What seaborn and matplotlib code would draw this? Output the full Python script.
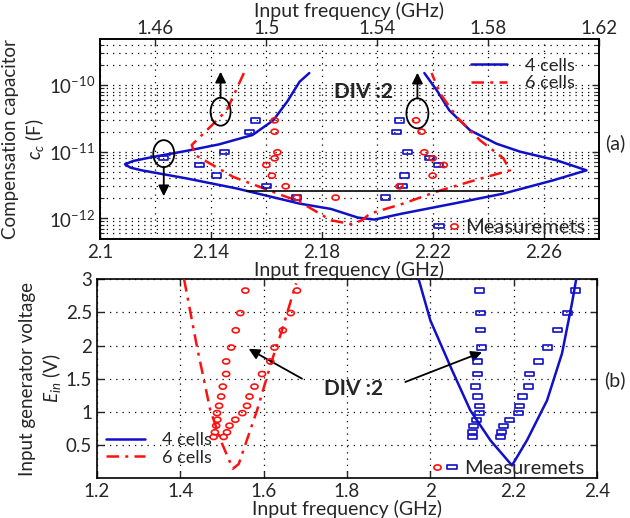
import numpy as np
import matplotlib
matplotlib.use("Agg")
import matplotlib.pyplot as plt
import seaborn as sns
from matplotlib.lines import Line2D
from matplotlib.patches import Ellipse
from matplotlib.legend_handler import HandlerTuple
from matplotlib.path import Path
from matplotlib.markers import MarkerStyle

# ---------------- data ----------------
# (a) compensation capacitor vs input frequency, exponents of c_c
a_4cells_f = [2.1755, 2.172, 2.1675, 2.1625, 2.155, 2.143, 2.131, 2.119, 2.112, 2.109,
              2.111, 2.115, 2.131, 2.149, 2.172, 2.1833, 2.193, 2.199, 2.209, 2.2275,
              2.2455, 2.2635, 2.2755, 2.2647, 2.2515, 2.243, 2.2335, 2.226, 2.2215, 2.217]
a_4cells_exp = [-9.82, -9.95, -10.25, -10.53, -10.75, -10.89, -10.99, -11.08, -11.14, -11.19,
                -11.24, -11.28, -11.40, -11.55, -11.78, -11.86, -11.99, -12.02, -11.93, -11.78,
                -11.63, -11.43, -11.28, -11.13, -11.00, -10.88, -10.68, -10.38, -10.08, -9.82]

a_6cells_f = [2.1519, 2.1457, 2.1397, 2.1331, 2.1343, 2.1385, 2.1481, 2.1577, 2.1673, 2.1715,
              2.1833, 2.1908, 2.1945, 2.1974, 2.2094, 2.2214, 2.2335, 2.2479, 2.2455, 2.2371,
              2.2287, 2.2226, 2.2196]
a_6cells_exp = [-9.82, -10.38, -10.63, -10.90, -11.05, -11.15, -11.38, -11.53, -11.68, -11.74,
                -12.03, -12.09, -12.03, -11.93, -11.78, -11.60, -11.45, -11.28, -11.10, -10.83,
                -10.48, -10.12, -9.82]

a_meas_exp = [-10.53, -10.70, -11.01, -11.10, -11.20, -11.36, -11.52, -11.69]
a_meas4_low = [2.156, 2.154, 2.145, 2.123, 2.136, 2.142, 2.160, 2.171]
a_meas4_high = [2.208, 2.207, 2.211, 2.219, 2.222, 2.210, 2.209, 2.203]
a_meas6_low = [2.163, 2.163, 2.164, 2.163, 2.160, 2.162, 2.167, 2.171]
a_meas6_high = [2.214, 2.216, 2.217, 2.220, 2.224, 2.220, 2.208, 2.185]

a_xticks = [2.1, 2.14, 2.18, 2.22, 2.26]
a_xticklabels = ["2.1", "2.14", "2.18", "2.22", "2.26"]
a_top_xticks = [1.46, 1.5, 1.54, 1.58, 1.62]
a_top_xticklabels = ["1.46", "1.5", "1.54", "1.58", "1.62"]

# (b) input generator voltage vs input frequency
b_4cells_f = [1.972, 2.000, 2.052, 2.096, 2.144, 2.196, 2.232, 2.280, 2.316, 2.340, 2.350]
b_4cells_v = [3.00, 2.38, 1.63, 1.02, 0.57, 0.19, 0.57, 1.17, 1.88, 2.64, 3.00]
b_6cells_f = [1.409, 1.440, 1.472, 1.500, 1.526, 1.540, 1.584, 1.620, 1.644, 1.673, 1.678]
b_6cells_v = [3.00, 1.98, 1.02, 0.52, 0.14, 0.21, 1.02, 1.78, 2.23, 2.84, 2.94]

b_meas_v = [2.83, 2.49, 2.23, 1.97, 1.76, 1.57, 1.38, 1.23, 1.09, 0.98, 0.88, 0.79, 0.69, 0.62]
b_meas4_low = [2.117, 2.120, 2.120, 2.122, 2.114, 2.114, 2.108, 2.113, 2.118, 2.117, 2.110, 2.104, 2.101, 2.102]
b_meas4_high = [2.348, 2.330, 2.306, 2.282, 2.260, 2.238, 2.235, 2.221, 2.214, 2.211, 2.190, 2.176, 2.171, 2.168]
b_meas6_low = [1.556, 1.544, 1.533, 1.522, 1.510, 1.510, 1.502, 1.498, 1.493, 1.488, 1.489, 1.486, 1.483, 1.480]
b_meas6_high = [1.680, 1.665, 1.646, 1.626, 1.616, 1.596, 1.578, 1.566, 1.560, 1.549, 1.532, 1.518, 1.512, 1.504]

b_xticks = [1.2, 1.4, 1.6, 1.8, 2.0, 2.2, 2.4]
b_xticklabels = ["1.2", "1.4", "1.6", "1.8", "2", "2.2", "2.4"]
b_yticks = [0.5, 1, 1.5, 2, 2.5, 3]
b_yticklabels = ["0.5", "1", "1.5", "2", "2.5", "3"]

# ---------------- style ----------------
sns.set_style("ticks")
plt.rcParams["font.family"] = ["Lato", "DejaVu Sans"]
plt.rcParams["mathtext.fontset"] = "custom"
plt.rcParams["mathtext.rm"] = "Lato"
plt.rcParams["mathtext.it"] = "Lato:italic"
plt.rcParams["mathtext.bf"] = "Lato:bold"
plt.rcParams["axes.linewidth"] = 1.2
plt.rcParams["axes.edgecolor"] = "black"
plt.rcParams["xtick.direction"] = "in"
plt.rcParams["ytick.direction"] = "in"

BLUE = "#1010c8"
RED = "#ff1010"
FS = 13.5
LFS = 14
DASHDOT = (0, (5, 2.5, 1.2, 2.5))
GRID = dict(color="black", linestyle=(0, (1, 4)), linewidth=0.9)

# wide box / flat ring markers
rect_marker = MarkerStyle(Path([(-1, -0.48), (1, -0.48), (1, 0.48), (-1, 0.48), (-1, -0.48)],
                               [Path.MOVETO, Path.LINETO, Path.LINETO, Path.LINETO, Path.CLOSEPOLY]))
t = np.linspace(0, 2 * np.pi, 40)
ring_marker = MarkerStyle(Path(np.column_stack([np.cos(t), 0.72 * np.sin(t)])))
RECT_S = 42
RING_S = 26

fig = plt.figure(figsize=(6.3, 5.18), dpi=100)
ax1 = fig.add_axes([100 / 630, (518 - 239.3) / 518, 499 / 630, 200 / 518])
ax2 = fig.add_axes([97 / 630, (518 - 478) / 518, 500 / 630, 198.7 / 518])


def meas(ax, x, y, marker, s, color):
    sns.scatterplot(x=x, y=y, ax=ax, marker=marker, s=s, color=color,
                    facecolor="none", edgecolor=color, linewidth=1.2, zorder=4)


# ---------------- (a) ----------------
ax1.set_yscale("log")
a_4cells_c = 10.0 ** np.array(a_4cells_exp)
a_6cells_c = 10.0 ** np.array(a_6cells_exp)
a_meas_c = 10.0 ** np.array(a_meas_exp)

sns.lineplot(x=a_4cells_f, y=a_4cells_c, sort=False, estimator=None, ax=ax1,
             color=BLUE, linewidth=1.8, zorder=3)
sns.lineplot(x=a_6cells_f, y=a_6cells_c, sort=False, estimator=None, ax=ax1,
             color=RED, linewidth=1.8, linestyle=DASHDOT, zorder=3)
meas(ax1, a_meas4_low, a_meas_c, rect_marker, RECT_S, BLUE)
meas(ax1, a_meas4_high, a_meas_c, rect_marker, RECT_S, BLUE)
meas(ax1, a_meas6_low, a_meas_c, ring_marker, RING_S, RED)
meas(ax1, a_meas6_high, a_meas_c, ring_marker, RING_S, RED)

ax1.set_xlim(2.1, 2.28)
ax1.set_ylim(10 ** -12.316, 10 ** -9.313)
ax1.set_xticks(a_xticks)
ax1.set_xticklabels(a_xticklabels)
ax1.set_yticks([1e-12, 1e-11, 1e-10])
ax1.tick_params(which="both", top=False, right=True, labelsize=FS)
ax1.tick_params(which="major", length=5, width=1)
ax1.tick_params(which="minor", length=3, width=0.8)
ax1.grid(True, which="major", axis="x", **GRID)
ax1.grid(True, which="both", axis="y", **GRID)
ax1.set_xlabel("Input frequency (GHz)", fontsize=LFS, labelpad=0)
ax1.set_ylabel("Compensation capacitor\n$c_c$ (F)", fontsize=LFS - 0.5, labelpad=2)

ax1t = ax1.twiny()
ax1t.set_xlim(1.44, 1.62)
ax1t.set_xticks(a_top_xticks)
ax1t.set_xticklabels(a_top_xticklabels)
ax1t.tick_params(which="both", direction="in", labelsize=FS, length=5, width=1, pad=2)
ax1t.grid(True, axis="x", **GRID)
ax1t.set_xlabel("Input frequency (GHz)", fontsize=LFS, labelpad=2)

# threshold line and annotations
ax1.hlines(10 ** -11.59, 2.1525, 2.2457, color="black", linewidth=1.2, zorder=3)
ax1.text(2.195, 10 ** -10.105, "DIV :2", fontsize=15, fontweight="bold",
         ha="center", va="center")


def to_axes(ax, x, y):
    return ax.transAxes.inverted().transform(ax.transData.transform((x, y)))


for (fx, ex, wpx, hpx) in [(2.123, -11.03, 21, 27), (2.1435, -10.40, 20, 28), (2.2145, -10.425, 22, 30)]:
    cx, cy = to_axes(ax1, fx, 10 ** ex)
    ax1.add_patch(Ellipse((cx, cy), wpx / 499, hpx / 200, transform=ax1.transAxes,
                          fill=False, edgecolor="black", linewidth=1.3, zorder=5))

arrow = dict(arrowstyle="-|>", color="black", lw=1.3, shrinkA=0, shrinkB=0, mutation_scale=16)
ax1.annotate("", xy=(2.123, 10 ** -11.67), xytext=(2.123, 10 ** -11.235), arrowprops=arrow)
ax1.annotate("", xy=(2.1435, 10 ** -9.80), xytext=(2.1435, 10 ** -10.19), arrowprops=arrow)
ax1.annotate("", xy=(2.2145, 10 ** -9.815), xytext=(2.2145, 10 ** -10.20), arrowprops=arrow)

h4 = Line2D([], [], color=BLUE, linewidth=1.8)
h6 = Line2D([], [], color=RED, linewidth=1.8, linestyle=DASHDOT)
hsq = Line2D([], [], marker=rect_marker, linestyle="none", markerfacecolor="none",
             markeredgecolor=BLUE, markersize=6.5, markeredgewidth=1.2)
hci = Line2D([], [], marker=ring_marker, linestyle="none", markerfacecolor="none",
             markeredgecolor=RED, markersize=5.2, markeredgewidth=1.2)

leg = ax1.legend([h4, h6], ["4 cells", "6 cells"], loc="upper right", bbox_to_anchor=(0.985, 0.99),
                 frameon=False, fontsize=FS - 0.5, handlelength=2.0, labelspacing=0.1, handletextpad=1.0)
ax1.add_artist(leg)
ax1.legend([(hsq, hci)], ["Measuremets"], handler_map={tuple: HandlerTuple(ndivide=None, pad=0.1)},
           loc="lower right", bbox_to_anchor=(1.01, -0.075), frameon=False, fontsize=LFS + 0.5,
           handlelength=1.4, handletextpad=0.25)

# ---------------- (b) ----------------
sns.lineplot(x=b_4cells_f, y=b_4cells_v, sort=False, estimator=None, ax=ax2,
             color=BLUE, linewidth=1.8, zorder=3)
sns.lineplot(x=b_6cells_f, y=b_6cells_v, sort=False, estimator=None, ax=ax2,
             color=RED, linewidth=1.8, linestyle=DASHDOT, zorder=3)
meas(ax2, b_meas4_low, b_meas_v, rect_marker, RECT_S, BLUE)
meas(ax2, b_meas4_high, b_meas_v, rect_marker, RECT_S, BLUE)
meas(ax2, b_meas6_low, b_meas_v, ring_marker, RING_S, RED)
meas(ax2, b_meas6_high, b_meas_v, ring_marker, RING_S, RED)

ax2.set_xlim(1.2, 2.4)
ax2.set_ylim(0, 3)
ax2.set_xticks(b_xticks)
ax2.set_xticklabels(b_xticklabels)
ax2.set_yticks(b_yticks)
ax2.set_yticklabels(b_yticklabels)
ax2.tick_params(which="both", top=True, right=True, labelsize=FS, length=5, width=1)
ax2.grid(True, **GRID)
ax2.set_xlabel("Input frequency (GHz)", fontsize=LFS, labelpad=0)
ax2.set_ylabel("Input generator voltage\n$E_{in}$ (V)", fontsize=LFS - 0.5, labelpad=2)

ax2.text(1.816, 1.35, "DIV :2", fontsize=15, fontweight="bold", ha="center", va="center")
ax2.annotate("", xy=(1.564, 1.95), xytext=(1.692, 1.50), arrowprops=arrow)
ax2.annotate("", xy=(2.124, 1.90), xytext=(1.94, 1.45), arrowprops=arrow)

leg2 = ax2.legend([h4, h6], ["4 cells", "6 cells"], loc="lower left", bbox_to_anchor=(-0.015, -0.02),
                  frameon=False, fontsize=FS - 0.5, handlelength=2.2, labelspacing=0.1, handletextpad=0.9)
ax2.add_artist(leg2)
ax2.legend([(hci, hsq)], ["Measuremets"], handler_map={tuple: HandlerTuple(ndivide=None, pad=0.1)},
           loc="lower right", bbox_to_anchor=(1.01, -0.085), frameon=False, fontsize=LFS + 0.5,
           handlelength=1.4, handletextpad=0.25)

fig.text(615 / 630, 1 - 143 / 518, "(a)", fontsize=LFS, ha="center", va="center")
fig.text(615 / 630, 1 - 380 / 518, "(b)", fontsize=LFS, ha="center", va="center")

fig.savefig("out.png", dpi=100)
